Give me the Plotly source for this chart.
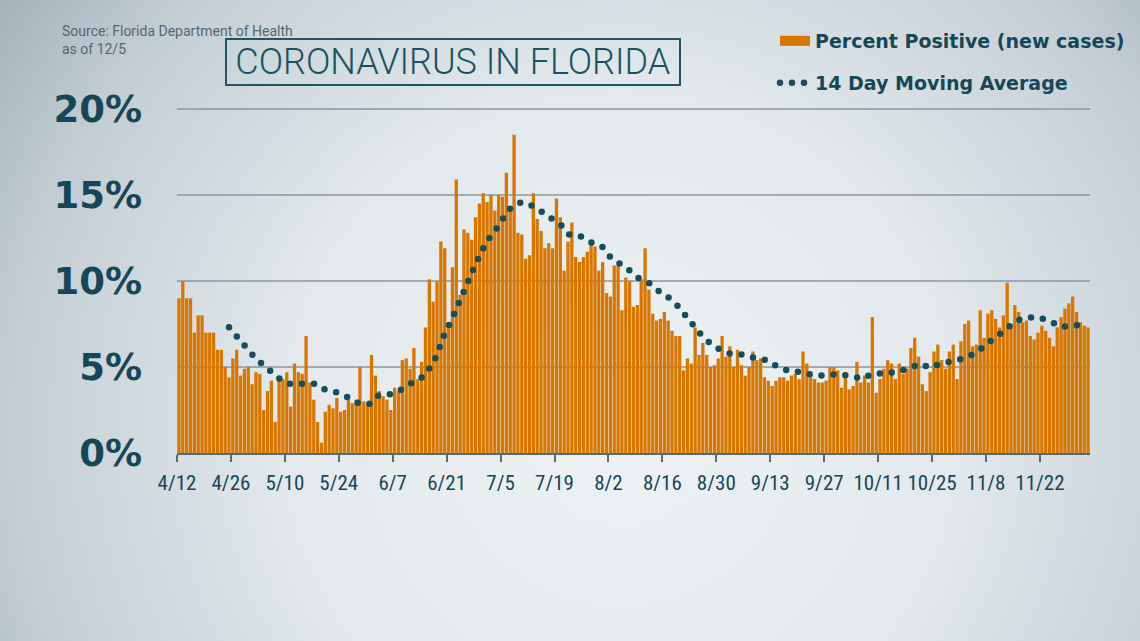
import base64
import pandas as pd
import plotly.graph_objects as go

# ---------------- data ----------------
start_date = "2020-04-12"

pct_positive = [
    9.0, 10.0, 9.0, 9.0, 7.0, 8.0, 8.0, 7.0, 7.0, 7.0, 6.0, 6.0, 5.0, 4.4, 5.5, 6.0, 4.5, 4.9, 5.0, 4.0,
    4.7, 4.6, 2.5, 3.6, 4.2, 1.8, 4.3, 4.3, 4.7, 2.7,
    5.2, 4.7, 4.6, 6.8, 4.1, 3.1, 1.8, 0.6, 2.4, 2.8, 2.6, 3.2, 2.4, 2.5, 3.1, 2.9, 3.1, 5.0, 3.0, 2.9,
    5.7, 4.5, 3.6, 3.3, 3.1, 2.5, 3.8, 3.6,
    5.4, 5.5, 4.9, 6.1, 4.3, 5.3, 7.3, 10.1, 8.8, 10.0, 12.3, 11.9,
    7.5, 10.8, 15.9, 9.2, 13.0, 12.8, 12.4, 13.7, 14.5, 15.1, 14.6, 15.0, 14.1, 15.0, 14.9, 16.3, 14.1,
    18.5, 12.8, 12.7, 11.3, 11.5, 15.1, 13.6, 12.9, 11.9, 12.2, 11.9, 14.8, 13.7, 10.6, 12.3, 13.4, 11.4,
    11.1, 11.4, 11.7, 12.2, 12.0, 10.6, 11.1, 9.3, 9.1, 10.9, 10.9,
    8.3, 10.2, 10.0, 8.5, 8.6, 10.1, 11.9, 9.5, 8.1, 7.7, 7.8, 8.2, 7.7, 7.1, 6.8, 6.8, 4.8, 5.5, 5.2,
    7.3, 5.7, 6.4, 5.7, 5.0, 5.1, 5.5, 6.8, 5.6, 6.2,
    5.0, 6.0, 5.1, 4.5, 5.0, 5.9, 5.4, 5.5, 4.4, 4.2, 3.9, 4.2, 4.4, 4.4, 4.2, 4.5, 4.6, 4.3, 5.9, 5.2,
    4.4, 4.3, 4.1, 4.1, 4.2, 5.0, 5.0, 4.8,
    3.8, 4.7, 3.7, 3.9, 5.3, 4.1, 4.5, 4.1, 7.9, 3.5, 4.3, 4.9, 5.4, 5.2, 4.3, 5.2, 4.6, 4.9, 6.1, 6.7,
    5.6, 4.0, 3.6, 4.7, 5.9, 6.3, 5.4, 4.9, 5.9,
    6.3, 4.3, 6.5, 7.5, 7.7, 6.2, 6.3, 8.3, 6.7, 8.1, 8.3, 7.8, 7.3, 8.0, 9.9, 7.5, 8.6, 8.2, 7.6, 7.7,
    6.8, 6.6, 7.0, 7.4, 7.1, 6.7, 6.2,
    7.3, 7.9, 8.4, 8.7, 9.1, 8.2, 7.6, 7.4, 7.3,
]

# 14 day moving average (days after 4/12, value)
ma_day = [
    13.5, 15.6, 17.5, 19.8, 22.1, 24.4, 26.8, 29.2, 32.9, 35.9, 38.5, 41.5, 44.4, 47.2, 50.1, 52.3, 55.4,
    58.2, 61.0, 63.9, 65.7, 67.3, 68.4, 69.5, 71.0, 72.2, 73.6, 74.9, 76.1, 77.4, 78.7, 80.2, 82.0, 84.0,
    85.5, 87.0, 89.4, 92.3, 95.0, 97.4, 100.0, 101.9, 104.9, 107.7, 110.6, 112.5, 114.8, 117.3, 119.8,
    122.5, 125.1, 127.7, 130.0, 132.0, 134.3, 136.1, 138.4, 141.1, 144.0, 147.1, 150.2, 153.3, 156.0,
    159.1, 162.2, 165.2, 168.4, 171.5, 174.6, 177.9, 180.7, 183.8, 187.0, 190.1, 192.9, 195.4, 198.4,
    201.7, 204.8, 207.6, 210.0, 212.6, 215.2, 217.5, 220.6, 223.7, 226.7, 229.5, 232.7, 235.9,
]
ma_value = [
    7.31, 6.75, 6.16, 5.66, 5.17, 4.68, 4.29, 4.03, 4.06, 4.03, 3.68, 3.52, 3.24, 2.89, 2.86, 3.36, 3.42,
    3.69, 4.08, 4.43, 4.98, 5.60, 6.28, 6.98, 7.60, 8.28, 8.90, 9.57, 10.24, 10.93, 11.59, 12.21, 12.79, 13.34,
    14.00, 14.31, 14.59, 14.37, 13.98, 13.55, 13.19, 12.68, 12.58, 12.23, 11.96, 11.39, 11.08, 10.64, 10.17,
    9.88, 9.41, 9.02, 8.55, 7.99, 7.47, 6.86, 6.38, 5.99, 5.74, 5.72, 5.50, 5.39, 4.99,
    4.76, 4.70, 4.51, 4.51, 4.59, 4.49, 4.33, 4.63, 4.61, 4.73, 4.92, 5.19, 4.96, 5.21,
    5.34, 5.56, 5.83, 6.32, 6.74, 7.18, 7.66, 7.88, 7.88, 7.66, 7.33, 7.37, 7.49,
]

y_ticks = [0, 5, 10, 15, 20]
y_tick_labels = ["0%", "5%", "10%", "15%", "20%"]

# ---------------- styles ----------------
ORANGE = "#d87700"
TEAL = "#164e5d"
TEXT = "#174757"
W, H = 1140, 641

dates = pd.date_range(start_date, periods=len(pct_positive), freq="D")
ma_dates = pd.Timestamp(start_date) + pd.to_timedelta(ma_day, unit="D")
end_date = dates[-1] + pd.Timedelta(days=1)

fig = go.Figure()
fig.add_trace(go.Bar(
    x=dates, y=pct_positive, xperiod=86400000, xperiodalignment="middle",
    marker=dict(color=ORANGE, line=dict(width=0)), showlegend=False,
    name="Percent Positive (new cases)", hoverinfo="skip",
))
# legend swatch for bars (wide rectangle)
fig.add_trace(go.Scatter(
    x=[None], y=[None], mode="lines", line=dict(color=ORANGE, width=14),
    name="Percent Positive (new cases)", legend="legend", hoverinfo="skip",
))
fig.add_trace(go.Scatter(
    x=ma_dates, y=ma_value, mode="lines",
    line=dict(color=TEAL, width=6.5, dash="0px,12px"),
    name="14 Day Moving Average", legend="legend2", hoverinfo="skip",
))

bg_svg = f'''<svg xmlns="http://www.w3.org/2000/svg" width="{W}" height="{H}" viewBox="0 0 {W} {H}" preserveAspectRatio="none">
<defs><radialGradient id="g" gradientUnits="userSpaceOnUse" cx="620" cy="430" r="760">
<stop offset="0" stop-color="#eef2f4"/><stop offset="0.45" stop-color="#e2e8ec"/>
<stop offset="0.8" stop-color="#c3ced4"/><stop offset="1" stop-color="#a3b1b9"/></radialGradient></defs>
<rect width="{W}" height="{H}" fill="url(#g)"/></svg>'''
bg_uri = "data:image/svg+xml;base64," + base64.b64encode(bg_svg.encode()).decode()

XFONT = "Liberation Sans Narrow, Roboto Condensed, Roboto"

fig.update_layout(
    width=W, height=H,
    margin=dict(l=0, r=0, t=0, b=0, autoexpand=False),
    paper_bgcolor="#dfe6ea", plot_bgcolor="rgba(0,0,0,0)",
    bargap=0.14,
    images=[dict(source=bg_uri, xref="paper", yref="paper", x=0, y=1, sizex=1, sizey=1,
                 sizing="stretch", layer="below", xanchor="left", yanchor="top")],
    xaxis=dict(
        domain=[177 / W, 1090 / W], range=[dates[0], end_date], type="date",
        tick0=start_date, dtick=14 * 86400000, tickformat="%-m/%-d", tickangle=0,
        automargin=False, ticklabelstandoff=3,
        showgrid=False, zeroline=False, showline=True, linecolor="#4e6d79", linewidth=2,
        ticks="outside", ticklen=7, tickwidth=1.5, tickcolor="#4e6d79",
        tickfont=dict(family=XFONT, size=21, color=TEXT),
    ),
    yaxis=dict(
        domain=[1 - 453 / H, 1 - 100.4 / H], range=[0, 20.5], automargin=False,
        tickmode="array", tickvals=y_ticks, ticktext=y_tick_labels,
        showgrid=True, gridcolor="rgba(140,150,156,0.75)",
        gridwidth=1.5, zeroline=False, showline=False, ticks="", ticklabelstandoff=34,
        tickfont=dict(family="DejaVu Sans", size=37, color=TEXT, weight="bold"),
    ),
    legend=dict(x=775 / W, y=1 - 22 / H, xanchor="left", yanchor="top",
                bgcolor="rgba(0,0,0,0)", borderwidth=0,
                font=dict(family="DejaVu Sans", size=19, color=TEXT, weight="bold")),
    legend2=dict(x=775 / W, y=1 - 64 / H, xanchor="left", yanchor="top",
                 bgcolor="rgba(0,0,0,0)", borderwidth=0,
                 font=dict(family="DejaVu Sans", size=19, color=TEXT, weight="bold")),
    annotations=[
        dict(text="\u2009CORONAVIRUS IN FLORIDA\u2009", xref="paper", yref="paper",
             x=452.5 / W, y=1 - 62 / H, xanchor="center", yanchor="middle", showarrow=False,
             font=dict(family="Roboto", size=36, color="#1a5262", weight=300),
             bordercolor="#1d5665", borderwidth=2, borderpad=1),
        dict(text="Source: Florida Department of Health", xref="paper", yref="paper",
             x=60 / W, y=1 - 31 / H, xanchor="left", yanchor="middle", showarrow=False,
             font=dict(family="Roboto", size=14, color="#56666e")),
        dict(text="as of 12/5", xref="paper", yref="paper",
             x=60 / W, y=1 - 49 / H, xanchor="left", yanchor="middle", showarrow=False,
             font=dict(family="Roboto", size=14, color="#56666e")),
    ],
)

post = """
document.body.style.margin='0';
document.querySelectorAll('path.js-line').forEach(function(p){
  var d=p.style.strokeDasharray;
  if(d && d!=='none'){p.style.strokeLinecap='round';}
});
"""
fig.write_html("out.html", config={"displayModeBar": False}, post_script=post)
